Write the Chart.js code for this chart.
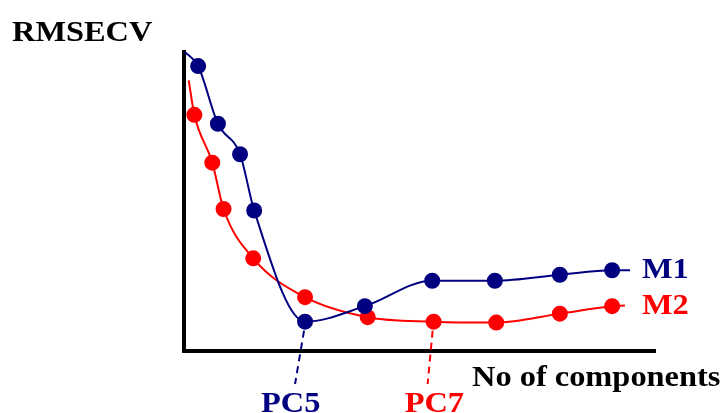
<!DOCTYPE html>
<html>
<head>
<meta charset="utf-8">
<script src="https://cdn.jsdelivr.net/npm/chart.js@4/dist/chart.umd.min.js"></script>
<style>
  html, body { margin: 0; padding: 0; background: #fff; }
  #wrap { width: 725px; height: 413px; position: relative; }
</style>
</head>
<body>
<div id="wrap"><canvas id="rmsecvChart"></canvas></div>
<script>
// number of components (x) and RMSECV (y) for the two models
// first and last entries are just where the line begins/ends (no marker)
const m1X = [0.02, 0.30, 0.72, 1.19, 1.49, 2.57, 3.84, 5.27, 6.60, 7.98, 9.09, 9.47];
const m1Y = [10.0, 9.53, 7.60, 6.58, 4.70, 0.98, 1.50, 2.35, 2.35, 2.55, 2.70, 2.70];
const m2X = [0.10, 0.22, 0.60, 0.84, 1.47, 2.57, 3.90, 5.30, 6.63, 7.98, 9.09, 9.36];
const m2Y = [9.05, 7.90, 6.30, 4.75, 3.10, 1.80, 1.13, 0.98, 0.95, 1.25, 1.50, 1.52];
const seriesNames = ['M1', 'M2'];
const seriesColors = ['#000080', '#ff0000'];

// index of the optimum point picked out for each model
const optimumIdx = [5, 7];
const optimumLabels = ['PC5', 'PC7'];

const toPoints = (xs, ys) => xs.map((x, i) => ({ x: x, y: ys[i] }));
const markerRadius = xs => xs.map((_, i) => (i === 0 || i === xs.length - 1) ? 0 : 7);

const serif = '"Liberation Serif", "Times New Roman", serif';

// writes bold serif text a bit wider than normal
function wideText(ctx, text, x, y, color) {
    ctx.save();
    ctx.translate(x, y);
    ctx.scale(1.08, 1);
    ctx.fillStyle = color;
    ctx.font = 'bold 30px ' + serif;
    ctx.textBaseline = 'alphabetic';
    ctx.fillText(text, 0, 0);
    ctx.restore();
}

// axis names, series names and the dashed pointers to PC5 / PC7
const labelsPlugin = {
    id: 'labelsPlugin',
    afterDraw(chart) {
        const ctx = chart.ctx;
        const area = chart.chartArea;
        const xs = chart.scales.x;
        const ys = chart.scales.y;

        wideText(ctx, 'RMSECV', 12, 41, '#000');
        wideText(ctx, 'No of components', 472, 386, '#000');

        const labelShift = [-44, -29];
        const tipShift = [-10, -6];

        chart.data.datasets.forEach((ds, i) => {
            const last = ds.data[ds.data.length - 1];
            const ly = ys.getPixelForValue(last.y);
            wideText(ctx, seriesNames[i], 642, ly + 8, seriesColors[i]);

            const p = ds.data[optimumIdx[i]];
            const px = xs.getPixelForValue(p.x);
            const py = ys.getPixelForValue(p.y);
            ctx.save();
            ctx.strokeStyle = seriesColors[i];
            ctx.lineWidth = 2;
            ctx.setLineDash([7, 5]);
            ctx.beginPath();
            ctx.moveTo(px - 1, py + 9);
            ctx.lineTo(px + tipShift[i], area.bottom + 33);
            ctx.stroke();
            ctx.restore();
            wideText(ctx, optimumLabels[i], px + labelShift[i], area.bottom + 61, seriesColors[i]);
        });
    }
};

const data = {
    datasets: [
        {
            label: seriesNames[0],
            data: toPoints(m1X, m1Y),
            borderColor: seriesColors[0],
            backgroundColor: seriesColors[0],
            pointRadius: markerRadius(m1X),
            borderWidth: 2,
            showLine: true,
            cubicInterpolationMode: 'monotone'
        },
        {
            label: seriesNames[1],
            data: toPoints(m2X, m2Y),
            borderColor: seriesColors[1],
            backgroundColor: seriesColors[1],
            pointRadius: markerRadius(m2X),
            borderWidth: 2,
            showLine: true,
            cubicInterpolationMode: 'monotone'
        }
    ]
};

const config = {
    type: 'scatter',
    data: data,
    options: {
        responsive: true,
        maintainAspectRatio: false,
        animation: false,
        events: [],
        clip: false,
        layout: {
            padding: { left: 184, right: 70, top: 52, bottom: 62 }
        },
        scales: {
            x: {
                min: 0,
                max: 10,
                ticks: { display: false },
                grid: { display: false, drawTicks: false },
                border: { display: true, color: '#000', width: 4 }
            },
            y: {
                min: 0,
                max: 10,
                ticks: { display: false },
                grid: { display: false, drawTicks: false },
                border: { display: true, color: '#000', width: 4 }
            }
        },
        plugins: {
            legend: { display: false },
            tooltip: { enabled: false }
        }
    },
    plugins: [labelsPlugin]
};

const ctx = document.getElementById('rmsecvChart').getContext('2d');
const rmsecvChart = new Chart(ctx, config);
</script>
</body>
</html>
